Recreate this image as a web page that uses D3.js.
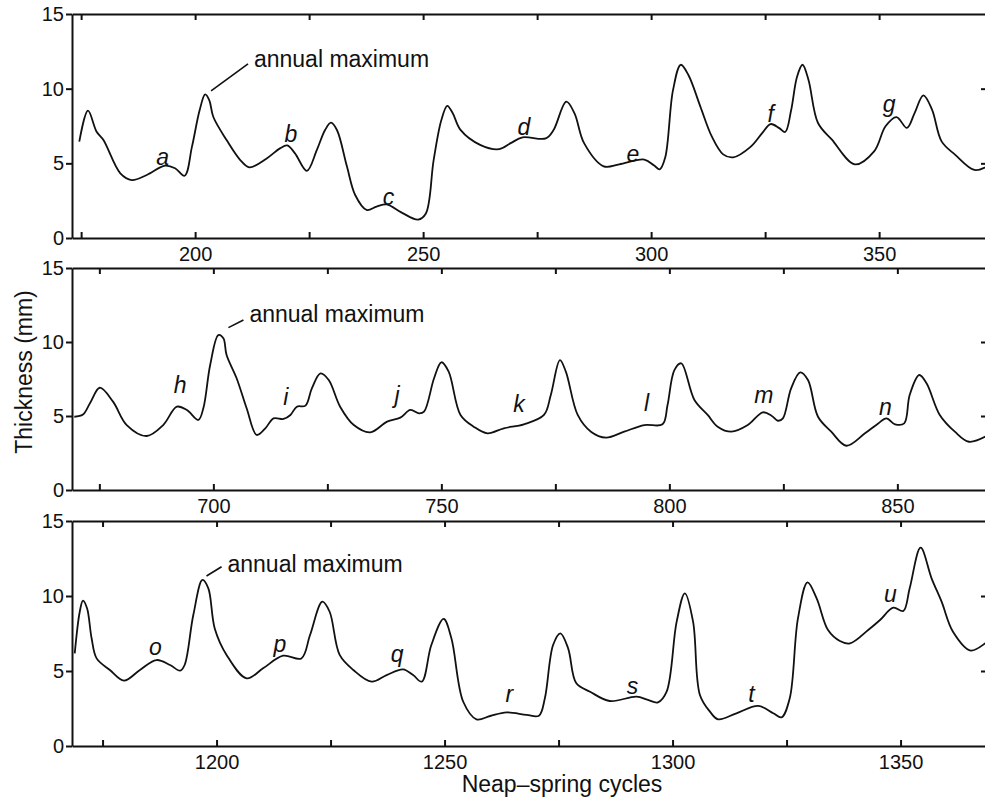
<html>

<head>
  <script src="https://d3js.org/d3.v7.min.js"></script>
  <style>
    body {
      margin: 0;
      background: #fff;
    }

    svg text {
      font-family: "Liberation Sans", Arial, Helvetica, sans-serif;
      fill: #111;
    }

    .axis .domain,
    .axis line {
      stroke: #111;
      stroke-width: 2px;
    }

    .axis text {
      font-size: 20px;
    }

    .letter {
      font-size: 23px;
      font-style: italic;
    }

    .note {
      font-size: 23px;
    }

    .axis-label {
      font-size: 23px;
    }
  </style>
</head>

<body>
  <svg id="chart" width="985" height="799"></svg>

  <script>
    // thickness readings [cycle, mm] for each of the three stretches of record
    const topSeries = [[174.6, 6.45], [176.5, 8.53], [178.4, 7.12], [179.9, 6.56], [183.6, 4.33], [186.1, 3.88],
    [189.4, 4.22], [193.4, 4.84], [195.6, 4.67], [197.7, 4.17], [199.3, 6.1], [201, 8.57], [202.2, 9.62],
    [203.1, 9.24], [204, 8.1], [206.9, 6.56], [209.9, 5.22], [211.9, 4.73], [215.7, 5.33], [218.6, 6.0],
    [220.2, 6.2], [221.9, 5.67], [224.5, 4.5], [226.7, 5.9], [228.5, 7.23], [229.8, 7.72], [231.1, 7.23],
    [233.3, 4.78], [235.1, 2.88], [237.6, 1.88], [239.8, 2.1], [242, 2.25], [245.3, 1.7], [248.9, 1.23],
    [250.6, 1.64], [252.3, 5.2], [254, 7.9], [255.3, 8.85], [256.5, 8.35], [258.2, 7.24], [262.5, 6.24],
    [266.7, 5.95], [269.2, 6.35], [271.8, 6.74], [276.9, 6.67], [278.6, 7.23], [281.4, 9.13], [283.2, 8.35],
    [285.3, 6.35], [289.6, 4.8], [293, 4.93], [298.5, 5.25], [300.6, 4.87], [301.9, 4.6], [303.1, 5.4],
    [304.8, 9.9], [306.5, 11.6], [308.2, 10.9], [310.8, 8.8], [313.3, 6.8], [315.8, 5.6], [318, 5.4],
    [321.8, 6.1], [324.3, 7.0], [326.2, 7.63], [328.1, 7.36], [329.4, 7.1], [330.7, 8.55], [332, 10.8],
    [333.2, 11.6], [334.5, 10.6], [336.6, 7.7], [339.6, 6.6], [344.7, 4.93], [348.9, 5.8], [351.4, 7.48],
    [353.8, 8.1], [356.1, 7.37], [357.8, 8.38], [359.7, 9.55], [361.6, 8.6], [363.7, 6.47], [366.7, 5.57],
    [370.9, 4.56], [374, 4.85]];

    const middleSeries = [[669.5, 4.95], [671.4, 5.1], [673, 5.9], [675.1, 6.91], [678, 5.97], [681, 4.39],
    [685.4, 3.65], [689, 4.39], [692, 5.63], [694.2, 5.4], [696.7, 4.73], [697.8, 5.52], [699.3, 8.45],
    [701.1, 10.47], [702.2, 10.25], [702.9, 9.12], [705.1, 7.55], [707.3, 5.52], [709.5, 3.72], [711.4, 4.17],
    [713.2, 4.84], [715.4, 4.8], [716.9, 5.07], [718.3, 5.63], [720.2, 5.7], [721.6, 6.87], [723.5, 7.88],
    [725.3, 7.43], [727.8, 5.63], [730.8, 4.39], [734.4, 3.9], [738.1, 4.62], [741, 4.89], [743.2, 5.41],
    [745.1, 5.18], [746.2, 5.29], [748.4, 7.55], [750, 8.63], [751.6, 8.0], [754.2, 5.07], [757.1, 4.28],
    [760.1, 3.83], [763.7, 4.17], [768.1, 4.44], [772.5, 5.07], [774, 6.42], [776, 8.78], [777.3, 8.0],
    [779.9, 5.07], [782.8, 3.94], [786.1, 3.54], [790.1, 3.94], [794.5, 4.39], [798.5, 4.44], [799.6, 5.74],
    [801.1, 8.1], [802.6, 8.56], [805.5, 6.08], [808.4, 5.07], [810.6, 4.28], [813.6, 3.94], [817.2, 4.39],
    [820.5, 5.25], [822.4, 5.02], [823.8, 4.68], [824.9, 4.84], [826.7, 6.87], [828.7, 7.95], [830.4, 7.43],
    [832.6, 4.95], [835.5, 3.94], [838.8, 2.99], [842.9, 3.83], [845.8, 4.5], [847.6, 4.84], [849.5, 4.44],
    [851.5, 4.5], [852.7, 6.42], [854.8, 7.77], [856.4, 7.21], [859.3, 5.07], [862.6, 3.94], [865.7, 3.26],
    [870, 3.72]];

    const bottomSeries = [[1168.9, 6.18], [1170, 8.95], [1170.7, 9.69], [1171.6, 9.18], [1172.6, 7.18],
    [1173.7, 5.84], [1176.6, 5.07], [1179.7, 4.36], [1183.2, 5.07], [1186.8, 5.73], [1189.8, 5.4], [1192, 5.02],
    [1193, 5.4], [1194.9, 8.73], [1196.9, 11.07], [1198.2, 10.51], [1199.6, 7.84], [1202.2, 6.07], [1206.6, 4.51],
    [1210.2, 5.18], [1214.6, 6.02], [1218.6, 5.84], [1220.5, 7.4], [1223.2, 9.62], [1224.8, 8.95], [1227, 6.07],
    [1230, 5.07], [1234, 4.29], [1237.3, 4.73], [1240.9, 5.11], [1243.1, 4.73], [1245, 4.29], [1247.1, 6.73],
    [1249.8, 8.47], [1251.5, 7.18], [1254.1, 2.95], [1257, 1.78], [1260, 2.0], [1263.6, 2.24], [1268, 2.07],
    [1270.7, 2.02], [1272, 3.18], [1273.8, 6.73], [1275.4, 7.51], [1277.1, 6.51], [1278.9, 4.18], [1281.9, 3.62],
    [1286.2, 3.0], [1292.1, 3.29], [1294.6, 3.07], [1296.8, 2.91], [1298.7, 3.62], [1300.9, 8.29], [1302.7, 10.18],
    [1304.5, 8.29], [1306, 3.4], [1308.2, 2.29], [1310, 1.78], [1314, 2.18], [1318.8, 2.67], [1322.1, 2.18],
    [1323.9, 1.91], [1325.7, 3.18], [1327.5, 8.51], [1329.6, 10.91], [1331.6, 9.84], [1334.1, 7.73], [1336.7, 7.0],
    [1338.9, 6.84], [1342.9, 7.73], [1345.5, 8.4], [1348.4, 9.22], [1350.6, 9.0], [1352, 10.51], [1354.4, 13.22],
    [1356.8, 11.18], [1359, 9.62], [1361.5, 7.62], [1365.4, 6.36], [1369.5, 7.1]];

    // italic letters marking the small humps [letter, cycle, mm]
    const topLetters = [["a", 192.9, 4.89], ["b", 221, 6.45], ["c", 242.4, 2.21], ["d", 272.1, 6.9],
    ["e", 296, 5.11], ["f", 326.2, 7.79], ["g", 352.2, 8.46]];
    const middleLetters = [["h", 692.7, 6.53], ["i", 715.9, 5.74], ["j", 740.3, 5.86], ["k", 767, 5.29],
    ["l", 795, 5.34], ["m", 820.7, 5.86], ["n", 847.4, 5.07]];
    const bottomLetters = [["o", 1186.6, 6.07], ["p", 1213.9, 6.29], ["q", 1239.6, 5.58], ["r", 1264.2, 2.95],
    ["s", 1291.2, 3.45], ["t", 1317.3, 2.95], ["u", 1347.8, 9.62]];

    // "annual maximum" leader [from, to] and text start, in [cycle, mm]
    const topNote = [[203.5, 9.85], [211.6, 11.66], [212.9, 11.47]];
    const middleNote = [[703.3, 10.97], [706.6, 11.49], [707.9, 11.37]];
    const bottomNote = [[1197.8, 11.33], [1201.1, 11.95], [1202.4, 11.62]];

    const noteText = "annual maximum";
    const thicknessTicks = [0, 5, 10, 15];
    const xTitle = "Neap\u2013spring cycles";
    const yTitle = "Thickness (mm)";

    const svg = d3.select("svg#chart");
    const left = 72;
    const right = 987;
    const pxPerCycle = 4.56;

    const panels = [
      { series: topSeries, letters: topLetters, note: topNote, start: 173.0, top: 14, bottom: 238 },
      { series: middleSeries, letters: middleLetters, note: middleNote, start: 669.0, top: 268, bottom: 490 },
      { series: bottomSeries, letters: bottomLetters, note: bottomNote, start: 1168.3, top: 521, bottom: 746 }
    ];

    panels.forEach((p, i) => {
      const xScale = d3.scaleLinear()
        .domain([p.start, p.start + (right - left) / pxPerCycle])
        .range([left, right]);
      const yScale = d3.scaleLinear().domain([0, 15]).range([p.bottom, p.top]);

      const first = Math.ceil(p.start / 25) * 25;
      const xTicks = d3.range(first, xScale.domain()[1], 25);

      const g = svg.append("g").attr("class", "panel");

      svg.append("clipPath").attr("id", "clip" + i)
        .append("rect")
        .attr("x", left).attr("y", p.top)
        .attr("width", right - left).attr("height", p.bottom - p.top);

      // curve
      const line = d3.line()
        .x(d => xScale(d[0]))
        .y(d => yScale(d[1]))
        .curve(d3.curveCatmullRom.alpha(0.5));

      g.append("path")
        .datum(p.series)
        .attr("clip-path", "url(#clip" + i + ")")
        .attr("d", line)
        .attr("fill", "none")
        .attr("stroke", "#111")
        .attr("stroke-width", 1.8)
        .attr("stroke-linejoin", "round");

      // x axes, ticks pointing in
      g.append("g")
        .attr("class", "axis")
        .attr("transform", "translate(0," + p.bottom + ")")
        .call(d3.axisBottom(xScale).tickValues(xTicks).tickSizeInner(-6).tickSizeOuter(0)
          .tickPadding(9).tickFormat(d => d % 50 === 0 ? d : ""));
      g.append("g")
        .attr("class", "axis")
        .attr("transform", "translate(0," + p.top + ")")
        .call(d3.axisTop(xScale).tickValues(xTicks).tickSizeInner(-6).tickSizeOuter(0).tickFormat(""));

      // y axes
      g.append("g")
        .attr("class", "axis")
        .attr("transform", "translate(" + left + ",0)")
        .call(d3.axisLeft(yScale).tickValues(thicknessTicks).tickSizeInner(6).tickSizeOuter(0).tickPadding(2));
      g.append("g")
        .attr("class", "axis")
        .attr("transform", "translate(" + right + ",0)")
        .call(d3.axisRight(yScale).tickValues([5, 10]).tickSizeInner(-6).tickSizeOuter(0).tickFormat(""));

      // letters
      p.letters.forEach(d => {
        g.append("text")
          .attr("class", "letter")
          .attr("x", xScale(d[1]))
          .attr("y", yScale(d[2]))
          .attr("text-anchor", "middle")
          .text(d[0]);
      });

      // annual maximum note
      g.append("line")
        .attr("x1", xScale(p.note[0][0])).attr("y1", yScale(p.note[0][1]))
        .attr("x2", xScale(p.note[1][0])).attr("y2", yScale(p.note[1][1]))
        .attr("stroke", "#111")
        .attr("stroke-width", 1.6);
      g.append("text")
        .attr("class", "note")
        .attr("x", xScale(p.note[2][0]))
        .attr("y", yScale(p.note[2][1]))
        .text(noteText);
    });

    // titles
    svg.append("text")
      .attr("class", "axis-label")
      .attr("x", 562)
      .attr("y", 792)
      .attr("text-anchor", "middle")
      .text(xTitle);

    svg.append("text")
      .attr("class", "axis-label")
      .attr("transform", "translate(32,372) rotate(-90)")
      .attr("text-anchor", "middle")
      .text(yTitle);
  </script>
</body>

</html>
